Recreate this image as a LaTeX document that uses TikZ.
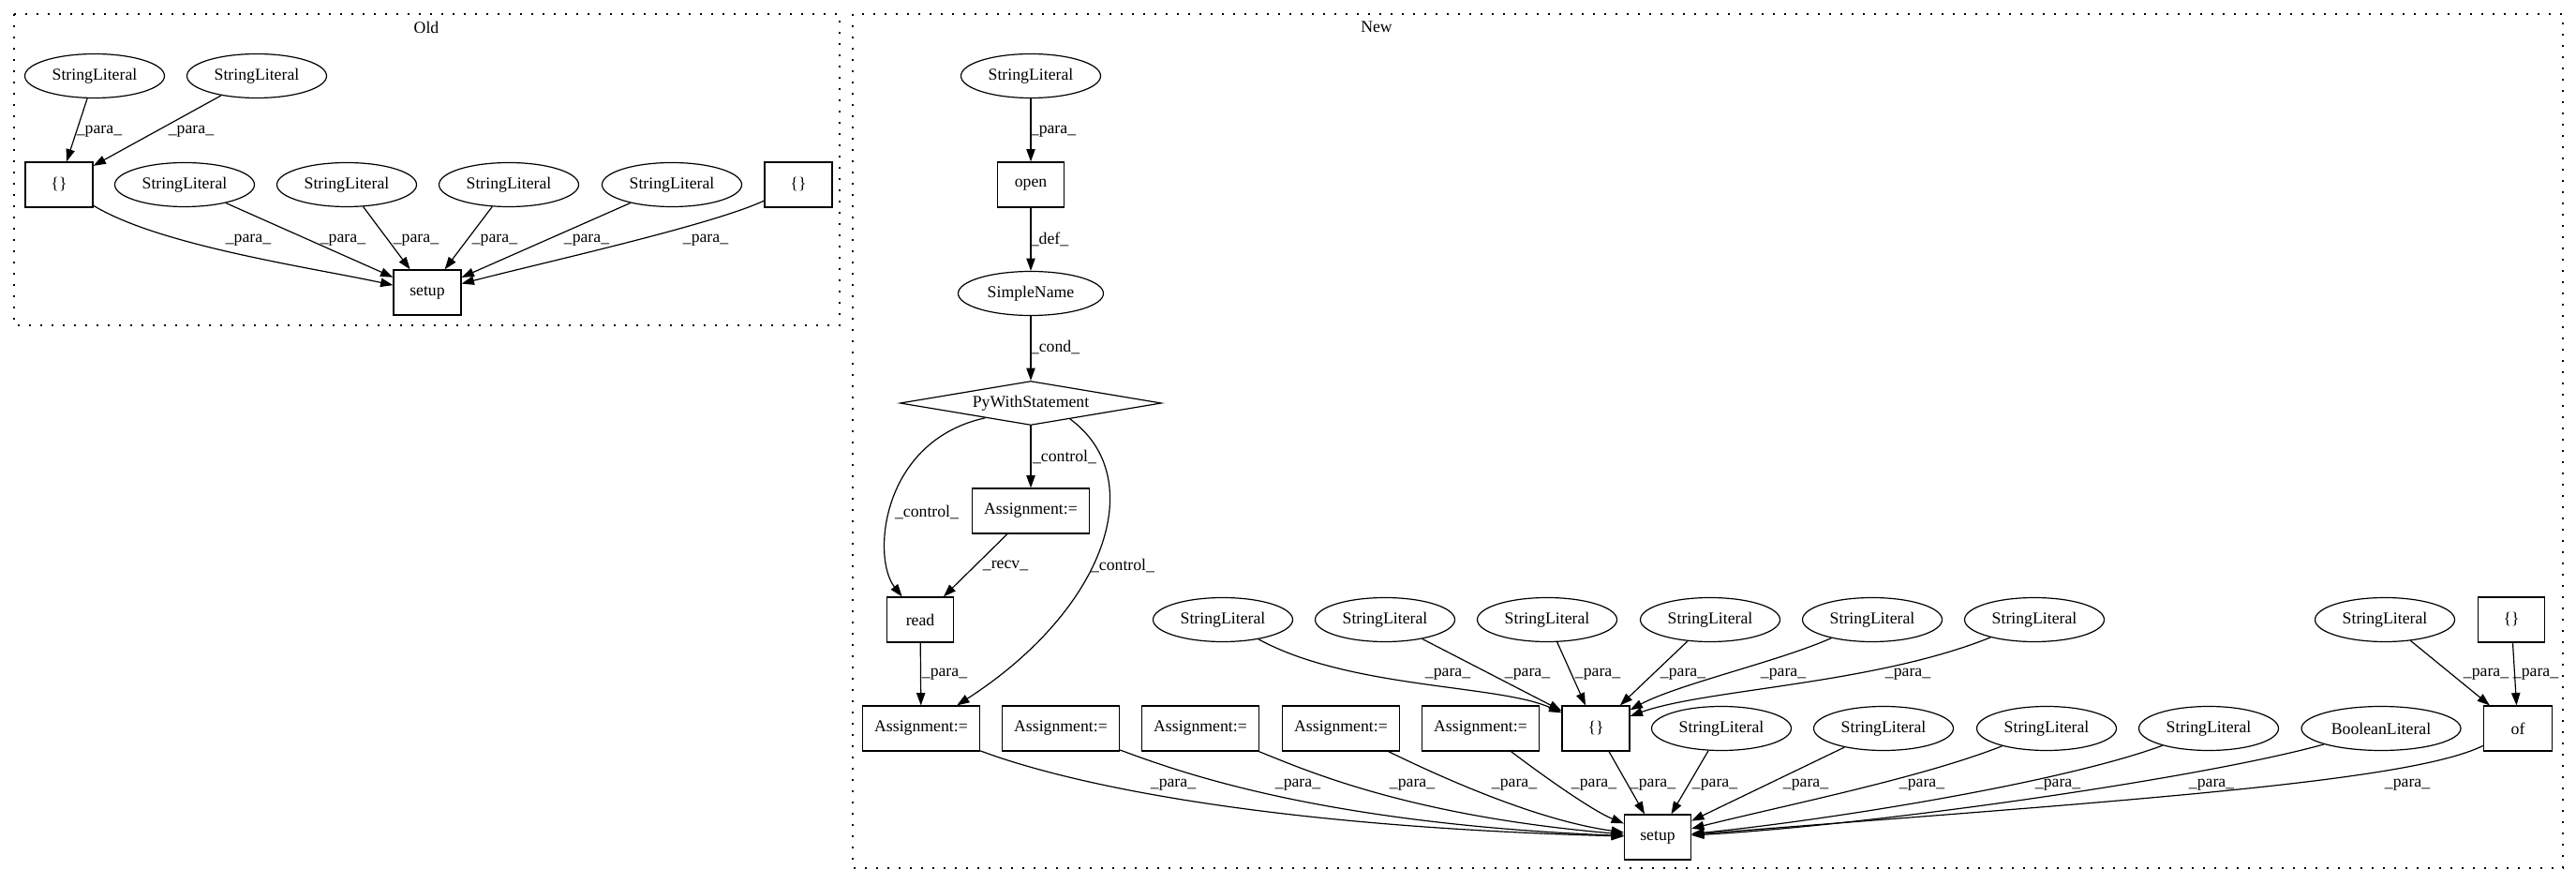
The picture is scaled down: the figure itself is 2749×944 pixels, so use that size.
\documentclass[tikz,border=0pt]{standalone}
\usepackage{fontspec}
\setmainfont{Liberation Serif}
\usetikzlibrary{shapes.geometric,arrows.meta}
\begin{document}
\begin{tikzpicture}[x=0.75pt,y=-0.75pt,
  every node/.style={font=\fontsize{13.3}{16}\selectfont},
  ell/.style={draw, ellipse, line width=0.9pt, inner sep=0pt, minimum width=111.75pt, minimum height=35.25pt},
  box/.style={draw, rectangle, line width=0.9pt, inner sep=0pt, minimum height=36pt, minimum width=54pt},
  abox/.style={box, minimum width=93.75pt},
  dia/.style={draw, diamond, line width=0.9pt, aspect=5.9, inner sep=0pt, minimum width=209.25pt, minimum height=35.25pt},
  conn/.style={line width=0.9pt, -{Triangle[length=10pt,width=7pt]}},
  lab/.style={inner sep=0pt},
  cluster/.style={line width=0.9pt, dash pattern=on 1.2pt off 7.8pt}
]
\useasboundingbox (0,0) rectangle (2749,944);

% ---------------- clusters ----------------
\draw[cluster] (15,15) rectangle (896,347);
\node[lab] (t_old) at (455,29) {Old};
\draw[cluster] (910,15) rectangle (2735,926);
\node[lab] (t_new) at (1469,29) {New};

% ---------------- Old ----------------
\node[ell] (o_sl1) at (101,81) {StringLiteral};
\node[ell] (o_sl2) at (274,81) {StringLiteral};
\node[box] (o_br1) at (63,197) {\{\}};
\node[ell] (o_sl3) at (197,197) {StringLiteral};
\node[ell] (o_sl4) at (370,197) {StringLiteral};
\node[ell] (o_sl5) at (543,197) {StringLiteral};
\node[ell] (o_sl6) at (717,197) {StringLiteral};
\node[box] (o_br2) at (852,197) {\{\}};
\node[box] (o_setup) at (456,312) {setup};

\draw[conn] (o_sl1) -- (o_br1);
\draw[conn] (o_sl2) -- (o_br1);
\draw[conn] (o_br1) .. controls (170,262) and (330,285) .. (o_setup);
\draw[conn] (o_sl3) -- (o_setup);
\draw[conn] (o_sl4) -- (o_setup);
\draw[conn] (o_sl5) -- (o_setup);
\draw[conn] (o_sl6) -- (o_setup);
\draw[conn] (o_br2) .. controls (760,240) and (580,280) .. (o_setup);

\node[lab] (ol1) at (106,140) {\_para\_};
\node[lab] (ol2) at (204,140) {\_para\_};
\node[lab] (ol3) at (265,256) {\_para\_};
\node[lab] (ol4) at (366,256) {\_para\_};
\node[lab] (ol5) at (444,256) {\_para\_};
\node[lab] (ol6) at (528,256) {\_para\_};
\node[lab] (ol7) at (626,256) {\_para\_};
\node[lab] (ol8) at (753,256) {\_para\_};

% ---------------- New ----------------
\node[ell] (n_sl0) at (1100,81) {StringLiteral};
\node[box, minimum width=53.25pt] (n_open) at (1100,197) {open};
\node[ell, minimum width=116.25pt] (n_simple) at (1100,313) {SimpleName};
\node[dia] (n_with) at (1100,430) {PyWithStatement};
\node[abox] (n_actl) at (1100,545) {Assignment:=};
\node[box, minimum width=53.25pt] (n_read) at (982,661) {read};

\node[abox] (n_a1) at (983,777) {Assignment:=};
\node[abox] (n_a2) at (1132,777) {Assignment:=};
\node[abox] (n_a3) at (1281,777) {Assignment:=};
\node[abox] (n_a4) at (1431,777) {Assignment:=};
\node[abox] (n_a5) at (1580,777) {Assignment:=};
\node[box] (n_br) at (1703,777) {\{\}};
\node[ell] (n_slr1) at (1837,777) {StringLiteral};
\node[ell] (n_slr2) at (2010,777) {StringLiteral};
\node[ell] (n_slr3) at (2184,777) {StringLiteral};
\node[ell] (n_slr4) at (2357,777) {StringLiteral};
\node[ell, minimum width=127.5pt] (n_bool) at (2541,777) {BooleanLiteral};
\node[box, minimum width=54.75pt] (n_of) at (2687,777) {of};

\node[ell] (n_sla) at (1305,661) {StringLiteral};
\node[ell] (n_slb) at (1478,661) {StringLiteral};
\node[ell] (n_slc) at (1651,661) {StringLiteral};
\node[ell] (n_sld) at (1825,661) {StringLiteral};
\node[ell] (n_sle) at (1998,661) {StringLiteral};
\node[ell] (n_slf) at (2171,661) {StringLiteral};
\node[ell] (n_slg) at (2545,661) {StringLiteral};
\node[box, minimum width=53.25pt] (n_br2) at (2680,661) {\{\}};

\node[box, minimum width=53.25pt] (n_setup) at (1769,893) {setup};

% edges
\draw[conn] (n_sl0) -- (n_open);
\draw[conn] (n_open) -- (n_simple);
\draw[conn] (n_simple) -- (n_with);
\draw[conn] (n_with) -- (n_actl);
\draw[conn] (n_with.198) .. controls (940,470) and (930,595) .. (n_read);
\draw[conn] (n_with.-22.5) .. controls (1228,510) and (1180,650) .. (n_a1);
\draw[conn] (n_actl) -- (n_read);
\draw[conn] (n_read) -- (n_a1);

\draw[conn] (n_a1) .. controls (1110,825) and (1300,880) .. (n_setup);
\draw[conn] (n_a2) .. controls (1250,820) and (1400,878) .. (n_setup);
\draw[conn] (n_a3) .. controls (1390,820) and (1500,870) .. (n_setup);
\draw[conn] (n_a4) .. controls (1540,830) and (1640,875) .. (n_setup);
\draw[conn] (n_a5) .. controls (1650,830) and (1700,865) .. (n_setup);
\draw[conn] (n_br) -- (n_setup);
\draw[conn] (n_slr1) -- (n_setup);
\draw[conn] (n_slr2) -- (n_setup);
\draw[conn] (n_slr3) .. controls (2050,830) and (1900,860) .. (n_setup);
\draw[conn] (n_slr4) .. controls (2200,835) and (1950,875) .. (n_setup);
\draw[conn] (n_bool) .. controls (2350,830) and (2000,880) .. (n_setup);
\draw[conn] (n_of) .. controls (2570,835) and (2250,855) .. (n_setup);

\draw[conn] (n_sla) .. controls (1440,735) and (1600,730) .. (n_br);
\draw[conn] (n_slb) -- (n_br);
\draw[conn] (n_slc) -- (n_br);
\draw[conn] (n_sld) -- (n_br);
\draw[conn] (n_sle) .. controls (1900,705) and (1790,730) .. (n_br);
\draw[conn] (n_slf) .. controls (2000,730) and (1820,735) .. (n_br);
\draw[conn] (n_slg) -- (n_of);
\draw[conn] (n_br2) -- (n_of);

% labels
\node[lab] (nl1) at (1124,140) {\_para\_};
\node[lab] (nl2) at (1120,255) {\_def\_};
\node[lab] (nl3) at (1126,370) {\_cond\_};
\node[lab] (nl4) at (1136,487) {\_control\_};
\node[lab] (nl5) at (989,546) {\_control\_};
\node[lab] (nl6) at (1073,603) {\_recv\_};
\node[lab] (nl7) at (1198,603) {\_control\_};
\node[lab] (nl8) at (1008,719) {\_para\_};

\node[lab] (nu1) at (1545,719) {\_para\_};
\node[lab] (nu2) at (1630,719) {\_para\_};
\node[lab] (nu3) at (1705,719) {\_para\_};
\node[lab] (nu4) at (1796,719) {\_para\_};
\node[lab] (nu5) at (1903,719) {\_para\_};
\node[lab] (nu6) at (2036,719) {\_para\_};
\node[lab] (nu7) at (2653,719) {\_para\_};
\node[lab] (nu8) at (2706,719) {\_para\_};

\node[lab] (nd1) at (1252,837) {\_para\_};
\node[lab] (nd2) at (1385,837) {\_para\_};
\node[lab] (nd3) at (1507,837) {\_para\_};
\node[lab] (nd4) at (1616,837) {\_para\_};
\node[lab] (nd5) at (1701,837) {\_para\_};
\node[lab] (nd6) at (1764,837) {\_para\_};
\node[lab] (nd7) at (1830,837) {\_para\_};
\node[lab] (nd8) at (1927,837) {\_para\_};
\node[lab] (nd9) at (2051,837) {\_para\_};
\node[lab] (nd10) at (2196,837) {\_para\_};
\node[lab] (nd11) at (2360,837) {\_para\_};
\node[lab] (nd12) at (2569,837) {\_para\_};
\end{tikzpicture}
\end{document}
